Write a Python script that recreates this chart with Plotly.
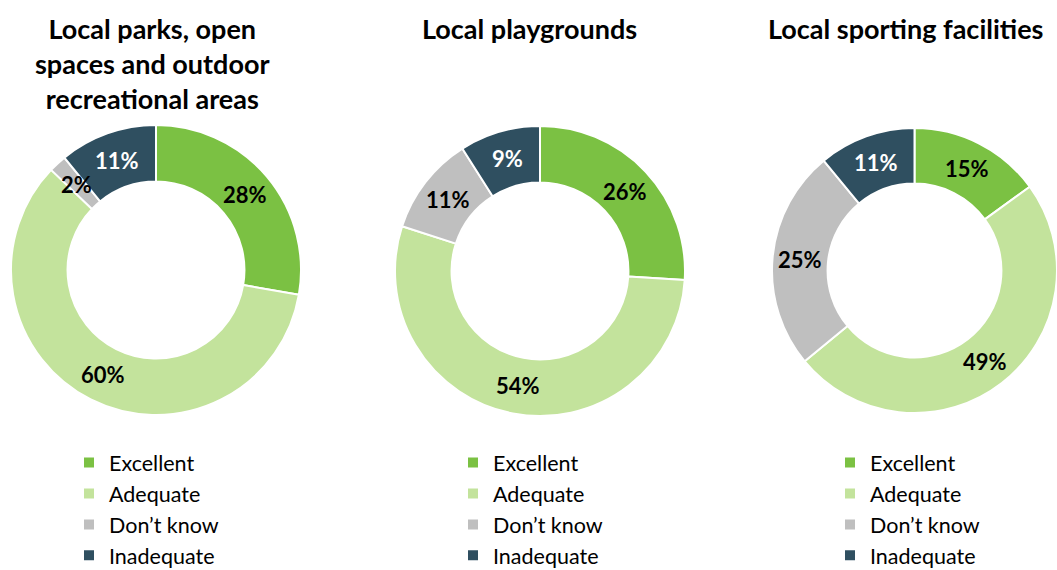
import math
import plotly.graph_objects as go

# Survey responses, percent of respondents
categories = ["Excellent", "Adequate", "Don\u2019t know", "Inadequate"]
titles = [
    "Local parks, open<br>spaces and outdoor<br>recreational areas",
    "Local playgrounds",
    "Local sporting facilities",
]
parks = [28, 60, 2, 11]
playgrounds = [26, 54, 11, 9]
sporting = [15, 49, 25, 11]
series = [parks, playgrounds, sporting]

colors = ["#7BC143", "#C3E39C", "#BFBFBF", "#2F4F60"]
label_colors = ["#000000", "#000000", "#000000", "#FFFFFF"]

W, H = 1057, 570
HOLE = 0.61
FONT = "Lato"

# pie placement in pixels: (left, right, top, bottom)
boxes = [(11, 301, 125, 415), (395, 685, 126, 416), (772, 1057, 128, 413)]
title_x = [152, 529, 905]
legend_x = [69, 453, 830]
legend_names = ["legend", "legend2", "legend3"]

fig = go.Figure()
annotations = []
layout_legends = {}

for i, vals in enumerate(series):
    l, r, t, b = boxes[i]
    # each chart keeps its own legend entries (zero-width suffix keeps labels distinct)
    labels = [c + "\u200b" * i for c in categories]
    fig.add_trace(go.Pie(
        labels=labels,
        values=vals,
        hole=HOLE,
        sort=False,
        direction="clockwise",
        rotation=0,
        textinfo="none",
        hoverinfo="label+percent",
        marker=dict(colors=colors, line=dict(color="#FFFFFF", width=2)),
        domain=dict(x=[l / W, r / W], y=[1 - b / H, 1 - t / H]),
        legend=legend_names[i],
        showlegend=True,
    ))

    # value labels at the middle of the ring, at each slice's mid-angle
    cx, cy = (l + r) / 2, (t + b) / 2
    radius = min(r - l, b - t) / 2
    r_mid = radius * (1 + HOLE) / 2
    total = sum(vals)
    cum = 0
    for k, v in enumerate(vals):
        mid = (cum + v / 2) / total * 2 * math.pi
        cum += v
        px = cx + r_mid * math.sin(mid)
        py = cy - r_mid * math.cos(mid)
        annotations.append(dict(
            x=px / W, y=1 - py / H, xref="paper", yref="paper",
            xanchor="center", yanchor="middle",
            text=f"<b>{v}%</b>", showarrow=False,
            font=dict(family=FONT, size=22, color=label_colors[k]),
        ))

    annotations.append(dict(
        x=title_x[i] / W, y=1 - 10 / H, xref="paper", yref="paper",
        xanchor="center", yanchor="top", align="center",
        text=f"<b>{titles[i]}</b>", showarrow=False,
        font=dict(family=FONT, size=27, color="#000000"),
    ))

    layout_legends[legend_names[i]] = dict(
        x=legend_x[i] / W, y=1 - 442 / H, xanchor="left", yanchor="top",
        orientation="v", bgcolor="rgba(0,0,0,0)",
        font=dict(family=FONT, size=21.5, color="#000000"),
        itemclick=False, itemdoubleclick=False,
    )

fig.update_layout(
    width=W, height=H,
    margin=dict(l=0, r=0, t=0, b=0, autoexpand=False),
    paper_bgcolor="#FFFFFF",
    plot_bgcolor="#FFFFFF",
    annotations=annotations,
    **layout_legends,
)

fig.write_html("out.html")
